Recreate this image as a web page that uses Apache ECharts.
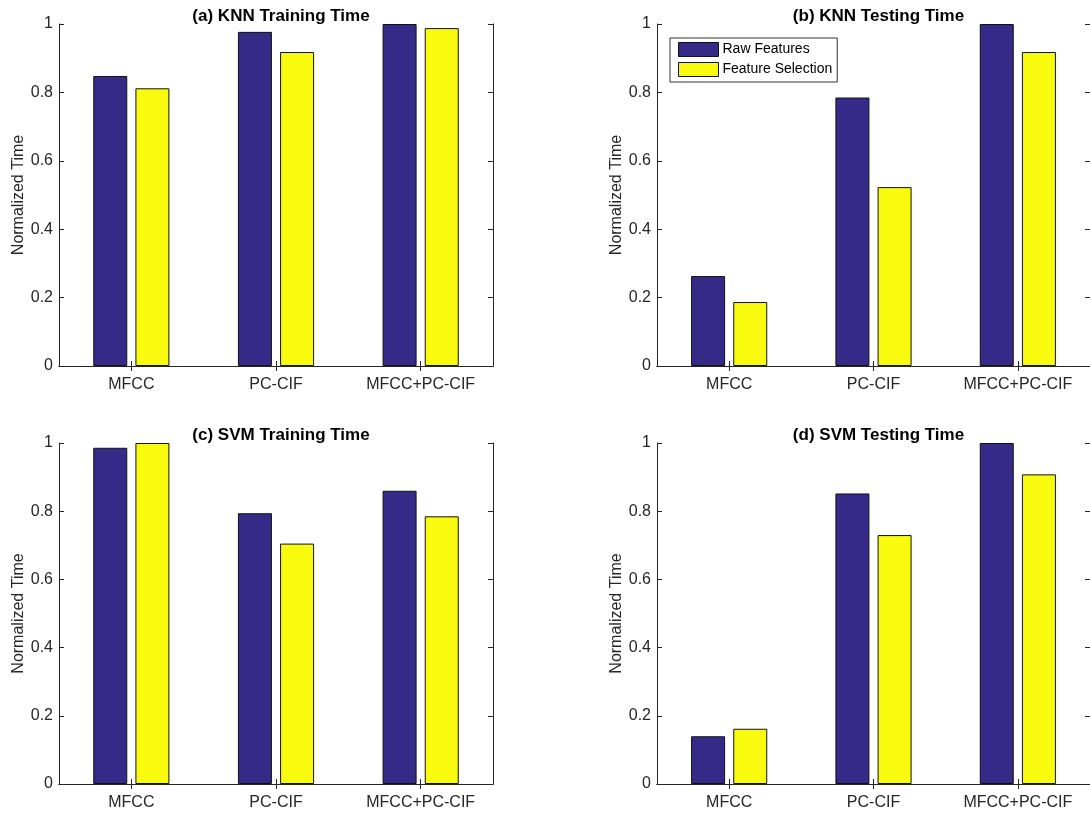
<!DOCTYPE html>
<html>
<head>
<meta charset="utf-8">
<script src="https://cdn.jsdelivr.net/npm/echarts@6/dist/echarts.min.js"></script>
<style>
  html, body { margin: 0; padding: 0; background: #ffffff; }
  #chart { width: 1090px; height: 816px; }
</style>
</head>
<body>
<div id="chart"></div>
<script>
// ---- Data ----
const categories = ['MFCC', 'PC-CIF', 'MFCC+PC-CIF'];
const seriesNames = ['Raw Features', 'Feature Selection'];
const panelTitles = ['(a) KNN Training Time', '(b) KNN Testing Time', '(c) SVM Training Time', '(d) SVM Testing Time'];
const yAxisTitle = 'Normalized Time';

const knnTrainRaw = [0.848, 0.977, 1.0];
const knnTrainSel = [0.812, 0.918, 0.988];
const knnTestRaw  = [0.263, 0.785, 1.0];
const knnTestSel  = [0.187, 0.523, 0.918];
const svmTrainRaw = [0.986, 0.794, 0.860];
const svmTrainSel = [1.0, 0.705, 0.785];
const svmTestRaw  = [0.140, 0.852, 1.0];
const svmTestSel  = [0.162, 0.730, 0.908];

const panelData = [
  [knnTrainRaw, knnTrainSel],
  [knnTestRaw, knnTestSel],
  [svmTrainRaw, svmTrainSel],
  [svmTestRaw, svmTestSel]
];

// ---- Layout / style ----
const FONT = "'Liberation Sans', Arial, Helvetica, sans-serif";
const AX = '#262626';
const colors = ['#352a87', '#f9fb0e'];
const grids = [
  { left: 59,  top: 24,  width: 434, height: 342 },
  { left: 657, top: 24,  width: 433, height: 342 },
  { left: 59,  top: 443, width: 434, height: 341 },
  { left: 657, top: 443, width: 433, height: 341 }
];

const xAxes = [], yAxes = [], series = [], titles = [];
grids.forEach((g, i) => {
  // bottom category axis
  xAxes.push({
    type: 'category', gridIndex: i, data: categories, position: 'bottom',
    axisLine: { show: true, lineStyle: { color: AX, width: 1 } },
    axisTick: { show: true, inside: true, alignWithLabel: true, length: 5, lineStyle: { color: AX } },
    axisLabel: { color: AX, fontFamily: FONT, fontSize: 16, margin: 11 },
    splitLine: { show: false }
  });
  // top box axis
  xAxes.push({
    type: 'category', gridIndex: i, data: categories, position: 'top',
    axisLine: { show: true, lineStyle: { color: AX, width: 1 } },
    axisTick: { show: true, inside: true, alignWithLabel: true, length: 5, lineStyle: { color: AX } },
    axisLabel: { show: false }, splitLine: { show: false }
  });
  yAxes.push({
    type: 'value', gridIndex: i, min: 0, max: 1, interval: 0.2, position: 'left',
    name: yAxisTitle, nameLocation: 'middle', nameGap: 31,
    nameTextStyle: { color: AX, fontFamily: FONT, fontSize: 16 },
    axisLine: { show: true, lineStyle: { color: AX, width: 1 } },
    axisTick: { show: true, inside: true, length: 5, lineStyle: { color: AX } },
    axisLabel: { color: AX, fontFamily: FONT, fontSize: 16, margin: 6 },
    splitLine: { show: false }
  });
  yAxes.push({
    type: 'value', gridIndex: i, min: 0, max: 1, interval: 0.2, position: 'right',
    axisLine: { show: true, lineStyle: { color: AX, width: 1 } },
    axisTick: { show: true, inside: true, length: 5, lineStyle: { color: AX } },
    axisLabel: { show: false }, splitLine: { show: false }
  });
  panelData[i].forEach((vals, s) => {
    series.push({
      type: 'bar', name: seriesNames[s], data: vals,
      xAxisIndex: i * 2, yAxisIndex: i * 2,
      barWidth: 34, barGap: '24%',
      itemStyle: { color: colors[s], borderColor: '#111', borderWidth: 1 },
      emphasis: { disabled: true },
      animation: false
    });
  });
  titles.push({
    text: panelTitles[i], left: g.left + g.width / 2, top: g.top - 21, textAlign: 'center',
    textStyle: { fontFamily: FONT, fontSize: 17, fontWeight: 'bold', color: '#000' }
  });
});

const chart = echarts.init(document.getElementById('chart'));
chart.setOption({
  animation: false,
  backgroundColor: '#ffffff',
  title: titles,
  grid: grids.map(g => Object.assign({ containLabel: false }, g)),
  xAxis: xAxes,
  yAxis: yAxes,
  legend: {
    data: seriesNames, orient: 'vertical', left: 670, top: 38,
    itemWidth: 40, itemHeight: 14, itemGap: 5,
    padding: [4, 5, 5, 8],
    borderColor: '#333', borderWidth: 1, backgroundColor: '#fff',
    icon: 'rect',
    itemStyle: { borderColor: '#111', borderWidth: 1 },
    textStyle: { fontFamily: FONT, fontSize: 14, color: '#000', padding: [0, 0, 0, -1] },
    selectedMode: false
  },
  series: series
});
</script>
</body>
</html>
